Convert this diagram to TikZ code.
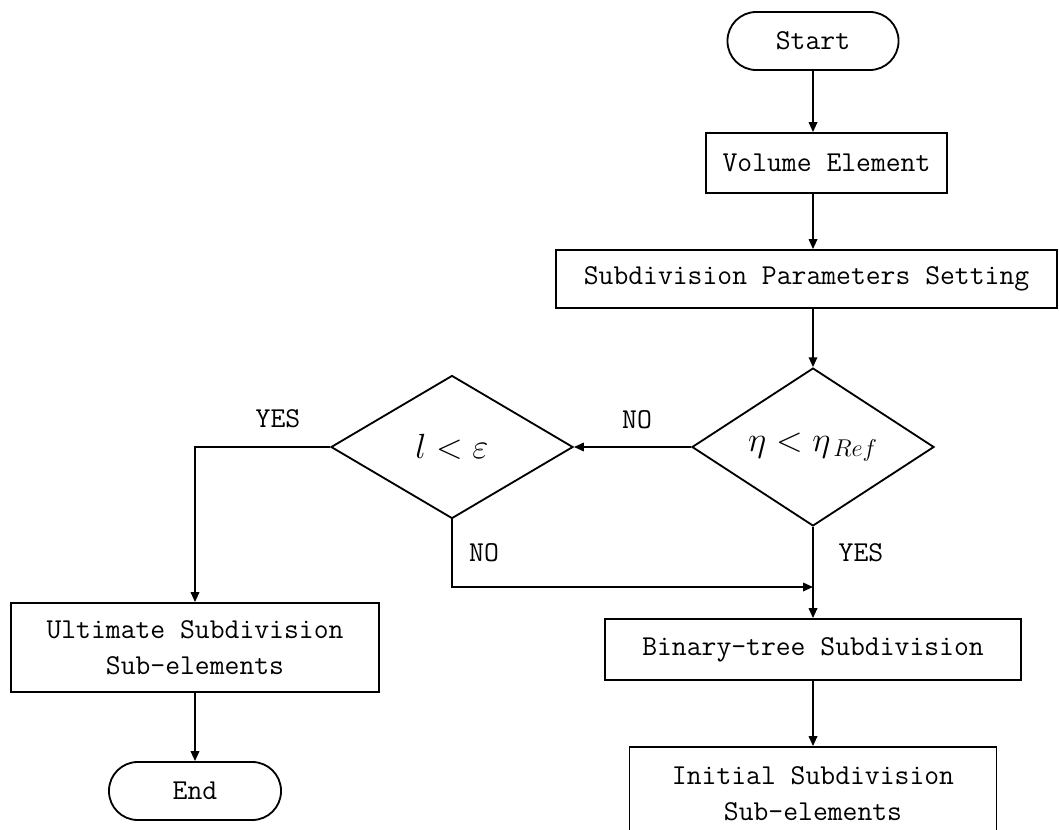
\documentclass[tikz,border=0pt]{standalone}
\usepackage{fontspec}
\usetikzlibrary{arrows.meta,positioning,shapes.geometric}

\begin{document}
\begin{tikzpicture}[x=0.025cm, y=-0.025cm,
  every node/.style={font=\ttfamily\fontsize{20.5}{26}\selectfont, align=center, inner sep=0pt},
  box/.style={draw, line width=1.3pt},
  term/.style={draw, line width=1.3pt, rounded corners=0.72cm, minimum height=1.45cm},
  cond/.style={draw, diamond, line width=1.3pt, minimum width=6.05cm, minimum height=3.575cm,
    font=\fontsize{24}{28}\selectfont},
  arr/.style={-{Triangle[length=7pt,width=6pt]}, line width=1.3pt},
  lbl/.style={font=\ttfamily\fontsize{20.5}{22}\selectfont}
]
\useasboundingbox (0,0) rectangle (1059,829);

% main column
\node[term, minimum width=4.275cm] (start) at (813,41) {Start};
\node[box, minimum width=6.025cm, minimum height=1.5cm] (vol) at (826.5,163) {Volume Element};
\node[box, minimum width=12.525cm, minimum height=1.45cm] (sps) at (806.5,279) {Subdivision Parameters Setting};
\node[cond] (eta) at (813,447) {$\eta<\eta_{\,Ref}$};
\node[box, minimum width=10.4cm, minimum height=1.525cm] (bin) at (813,649.5) {Binary-tree Subdivision};
\node[box, minimum width=9.175cm, minimum height=2.325cm] (init) at (813,793.5) {Initial Subdivision\\Sub-elements};

% left column
\node[cond] (lcond) at (452,447) {$l<\varepsilon$};
\node[box, minimum width=9.2cm, minimum height=2.225cm] (ult) at (195,647.5) {Ultimate Subdivision\\Sub-elements};
\node[term, minimum width=4.3cm] (end) at (195,791) {End};

\coordinate (join) at (813,587);

\draw[arr] (start) -- (start |- vol.north);
\draw[arr] (eta |- vol.south) -- (eta |- sps.north);
\draw[arr] (eta |- sps.south) -- (eta.north);
\draw[arr] (eta.west) -- (lcond.east);
\draw[arr] (lcond.west) -| (ult.north);
\draw[arr] (lcond.south) |- (join);
\draw[arr] (eta.south) -- (bin.north);
\draw[arr] (bin.south) -- (init.north);
\draw[arr] (ult.south) -- (end.north);

\node[lbl] (no1) at (637,420) {NO};
\node[lbl] (yes1) at (278,419) {YES};
\node[lbl] (no2) at (484,553) {NO};
\node[lbl] (yes2) at (861,553) {YES};
\end{tikzpicture}
\end{document}
